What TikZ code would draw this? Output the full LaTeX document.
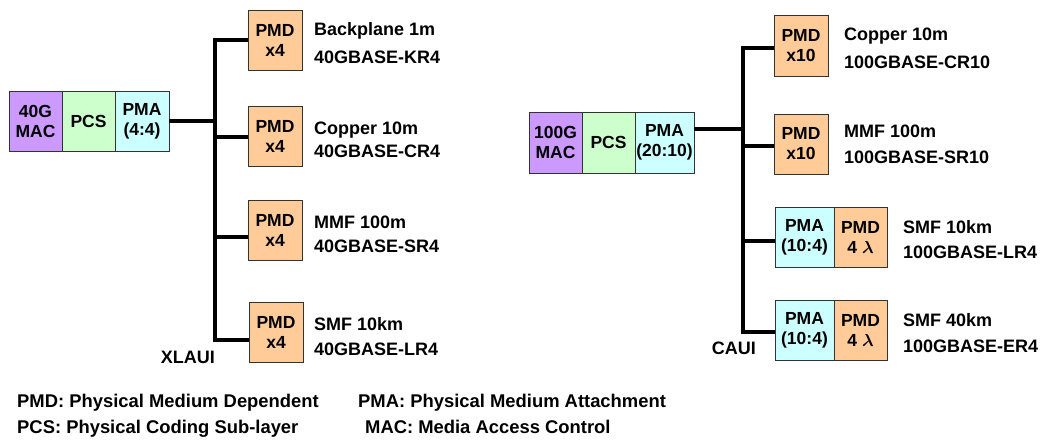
\documentclass[tikz,border=0pt]{standalone}
\usepackage{fontspec}
\setmainfont{Liberation Sans}
\usepackage{tikz}
\usetikzlibrary{positioning}
\definecolor{macpurple}{HTML}{CC99FF}
\definecolor{pcsgreen}{HTML}{CCFFCC}
\definecolor{pmacyan}{HTML}{CCFFFF}
\definecolor{pmdorange}{HTML}{FFCC99}
\newcommand{\lam}{{\boldmath$\lambda$}}

\begin{document}
\begin{tikzpicture}[x=1pt,y=-1pt,every node/.style={font=\bfseries\fontsize{18}{25}\selectfont,inner sep=0pt},
    layer/.style={draw=black!80,line width=0.8pt,outer sep=0pt,minimum width=53pt,minimum height=60pt,align=center,font=\bfseries\fontsize{17.5}{20}\selectfont},
    mac/.style={layer,fill=macpurple}, pcs/.style={layer,fill=pcsgreen},
    pma/.style={layer,fill=pmacyan}, pmd/.style={layer,fill=pmdorange,minimum width=54pt},
    medium/.style={align=left}, legend/.style={anchor=base west,font=\bfseries\fontsize{18.4}{22}\selectfont},
    bus/.style={line width=4.6pt}]
  \useasboundingbox (0,0) rectangle (1042,440);
  % 40G side
  \node[mac] (lmac) at (35.5,121) {40G\\MAC};
  \node[pcs,right=0pt of lmac] (lpcs) {PCS};
  \node[pma,right=0pt of lpcs,minimum width=54pt] (lpma) {PMA\\(4:4)};
  \node[pmd] (kr4) at (275,40) {PMD\\x4};
  \node[pmd] (cr4) at (275,136) {PMD\\x4};
  \node[pmd] (sr4) at (275,230) {PMD\\x4};
  \node[pmd] (lr4) at (276,332) {PMD\\x4};
  \node[medium,right=12pt of kr4,yshift=-3pt] (kr4txt) {Backplane 1m\\[3pt]40GBASE-KR4};
  \node[medium,right=12pt of cr4,yshift=-3.5pt] (cr4txt) {Copper 10m\\[-2pt]40GBASE-CR4};
  \node[medium,right=12pt of sr4,yshift=-4pt] (sr4txt) {MMF 100m\\[-1pt]40GBASE-SR4};
  \node[medium,right=11pt of lr4,yshift=-4.5pt] (lr4txt) {SMF 10km\\40GBASE-LR4};
  \coordinate (lj) at (215,121);
  \coordinate (lb1) at (215,40);
  \coordinate (lb2) at (215,137);
  \coordinate (lb3) at (215,237);
  \coordinate (lb4) at (215,340);
  \draw[bus] (lpma.east) -- (lj);
  \draw[bus] (lb1 -| kr4.west) -- (lb1) -- (lb4) -- (lb4 -| lr4.west);
  \draw[bus] (lb2) -- (lb2 -| cr4.west);
  \draw[bus] (lb3) -- (lb3 -| sr4.west);
  \node[anchor=east] (xlaui) at ([yshift=-17pt]lb4) {XLAUI};
  % 100G side
  \node[mac,minimum height=61pt] (rmac) at (555.5,142.5) {100G\\MAC};
  \node[pcs,right=0pt of rmac,minimum height=61pt] (rpcs) {PCS};
  \node[pma,right=0pt of rpcs,minimum width=59pt,minimum height=61pt] (rpma) {PMA\\(20:10)};
  \node[pmd,minimum height=61pt] (cr10) at (801,45.5) {PMD\\x10};
  \node[pmd] (sr10) at (801,144) {PMD\\x10};
  \node[pma,minimum width=59pt] (lrpma) at (804.5,237) {PMA\\(10:4)};
  \node[pmd,right=0pt of lrpma,minimum width=53pt] (lrpmd) {PMD\\4 \lam};
  \node[pma,minimum width=59pt] (erpma) at (804.5,330) {PMA\\(10:4)};
  \node[pmd,right=0pt of erpma,minimum width=53pt] (erpmd) {PMD\\4 \lam};
  \node[medium,right=16pt of cr10,yshift=-2.5pt] (cr10txt) {Copper 10m\\[3pt]100GBASE-CR10};
  \node[medium,right=16pt of sr10,yshift=0pt] (sr10txt) {MMF 100m\\[1pt]100GBASE-SR10};
  \node[medium,right=16pt of lrpmd,yshift=-2.5pt] (lrtxt) {SMF 10km\\100GBASE-LR4};
  \node[medium,right=16pt of erpmd,yshift=-3pt] (ertxt) {SMF 40km\\[1pt]100GBASE-ER4};
  \coordinate (rj) at (743,129);
  \coordinate (rb1) at (743,48);
  \coordinate (rb2) at (743,146);
  \coordinate (rb3) at (743,241);
  \coordinate (rb4) at (743,332);
  \draw[bus] (rj -| rpma.east) -- (rj);
  \draw[bus] (rb1 -| cr10.west) -- (rb1) -- (rb4) -- (rb4 -| erpma.west);
  \draw[bus] (rb2) -- (rb2 -| sr10.west);
  \draw[bus] (rb3) -- (rb3 -| lrpma.west);
  \node[anchor=east] (caui) at ([xshift=13pt,yshift=-16pt]rb4) {CAUI};
  % legend
  \node[legend] (legpmd) at (17,407) {PMD: Physical Medium Dependent};
  \node[legend] (legpcs) at (17,433) {PCS: Physical Coding Sub-layer};
  \node[legend] (legpma) at (358,407) {PMA: Physical Medium Attachment};
  \node[legend] (legmac) at (365,433) {MAC: Media Access Control};
\end{tikzpicture}
\end{document}
